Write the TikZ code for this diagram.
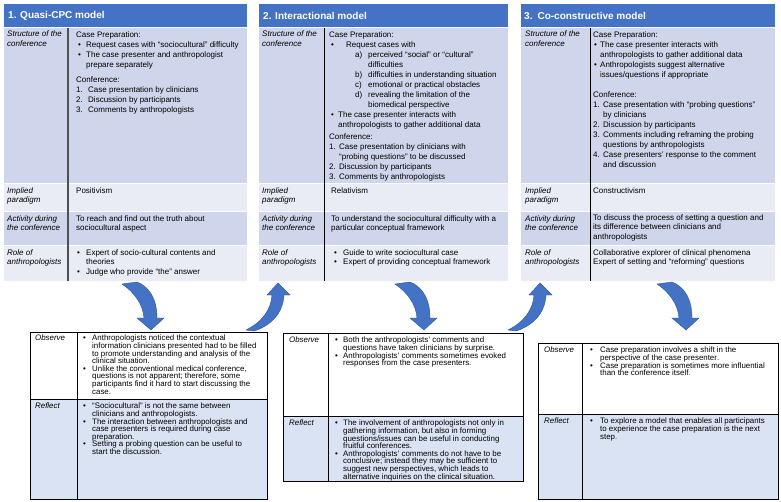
\documentclass[tikz,border=0pt]{standalone}
\usepackage{fontspec}
\setmainfont{Liberation Sans}
\definecolor{hdr}{RGB}{68,114,196}
\definecolor{rowA}{RGB}{207,213,234}
\definecolor{rowB}{RGB}{233,235,245}
\definecolor{refl}{RGB}{218,227,243}
\definecolor{arr}{RGB}{68,114,196}
\definecolor{arrd}{RGB}{47,85,151}
\definecolor{divg}{RGB}{80,80,80}
\newcommand\BU[3]{\makebox[#2][l]{\hspace*{#1}•}#3}
\newcommand\IN[2]{\hspace*{#1}#2}
\newcommand\NU[3]{\makebox[#1][l]{#2}#3}
\newcommand\RD{{\color{red}.}}
\begin{document}
\begin{tikzpicture}[x=1pt,y=-1pt,
  stxt/.style={anchor=north west, inner sep=0pt, align=left, font=\fontsize{8}{10}\selectfont},
  txt/.style={anchor=north west, inner sep=0pt, align=left, font=\fontsize{8}{9.5}\selectfont},
  lbl/.style={anchor=north west, inner sep=0pt, align=left, font=\fontsize{8}{9.5}\selectfont\itshape},
  btxt/.style={anchor=north west, inner sep=0pt, align=left, font=\fontsize{7.9}{7.6}\selectfont},
  blbl/.style={anchor=north west, inner sep=0pt, align=left, font=\fontsize{7.9}{7.6}\selectfont\itshape},
  hdrtxt/.style={anchor=west, inner sep=0pt, font=\fontsize{10}{12}\selectfont\bfseries, text=white},
  arrowshape/.style={fill=arr, draw=arrd, line width=0.4pt},
  boxline/.style={draw=black, line width=0.8pt},
  divline/.style={draw=black, line width=0.8pt},
]
\useasboundingbox (0,0) rectangle (781,501);
\fill[white] (0,0) rectangle (781,501);

% ================= Table 1 =================
\fill[hdr] (4,4) rectangle (247,27);
\fill[rowA] (4,28) rectangle (247,183);
\fill[rowB] (4,184) rectangle (247,211);
\fill[rowA] (4,212) rectangle (247,245);
\fill[rowB] (4,246) rectangle (247,281);
\draw[draw=divg, line width=1.1pt] (68,28) -- (68,281);
\node[hdrtxt] (h1) at (8,16) {1. Quasi-CPC model};
\node[lbl] (l1a) at (7,31) {Structure of the\\conference};
\node[lbl] (l1b) at (7,187) {Implied\\paradigm};
\node[lbl] (l1c) at (7,215) {Activity during\\the conference};
\node[lbl] (l1d) at (7,249) {Role of\\anthropologists};
\node[stxt] (t1a) at (76,31) {Case Preparation:\\
\BU{2pt}{10pt}{Request cases with “sociocultural” difficulty}\\
\BU{2pt}{10pt}{The case presenter and anthropologist}\\
\IN{10pt}{prepare separately}\\[5pt]
Conference:\\
\NU{12pt}{1.}{Case presentation by clinicians}\\
\NU{12pt}{2.}{Discussion by participants}\\
\NU{12pt}{3.}{Comments by anthropologists}};
\node[txt] (t1b) at (76,187) {Positivism};
\node[txt] (t1c) at (76,215) {To reach and find out the truth about\\sociocultural aspect};
\node[txt] (t1d) at (76,249) {\BU{1pt}{10pt}{Expert of socio-cultural contents and}\\
\IN{10pt}{theories}\\
\BU{1pt}{10pt}{Judge who provide “the” answer}};

% ================= Table 2 =================
\fill[hdr] (259,4) rectangle (508,27);
\fill[rowA] (259,28) rectangle (508,183);
\fill[rowB] (259,184) rectangle (508,211);
\fill[rowA] (259,212) rectangle (508,245);
\fill[rowB] (259,246) rectangle (508,281);
\draw[divline] (324,28) -- (324,281);
\node[hdrtxt] (h2) at (263,16) {2. Interactional model};
\node[lbl] (l2a) at (262,31) {Structure of the\\conference};
\node[lbl] (l2b) at (262,187) {Implied\\paradigm};
\node[lbl] (l2c) at (262,215) {Activity during\\the conference};
\node[lbl] (l2d) at (262,249) {Role of\\anthropologists};
\node[stxt] (t2a) at (329,31) {Case Preparation:\\
\BU{2pt}{17pt}{Request cases with}\\
\IN{26pt}{\makebox[13pt][l]{a)}perceived “social” or “cultural”}\\
\IN{39pt}{difficulties}\\
\IN{26pt}{\makebox[13pt][l]{b)}difficulties in understanding situation}\\
\IN{26pt}{\makebox[13pt][l]{c)}emotional or practical obstacles}\\
\IN{26pt}{\makebox[13pt][l]{d)}revealing the limitation of the}\\
\IN{39pt}{biomedical perspective}\\
\BU{2pt}{9pt}{The case presenter interacts with}\\
\IN{9pt}{anthropologists to gather additional data}\\[2pt]
Conference:\\
\NU{10pt}{1.}{Case presentation by clinicians with}\\
\IN{10pt}{“probing questions” to be discussed}\\
\NU{10pt}{2.}{Discussion by participants}\\
\NU{10pt}{3.}{Comments by anthropologists}};
\node[txt] (t2b) at (331,187) {Relativism};
\node[txt] (t2c) at (331,215) {To understand the sociocultural difficulty with a\\particular conceptual framework};
\node[txt] (t2d) at (331,249) {\BU{3pt}{12pt}{Guide to write sociocultural case}\\
\BU{3pt}{12pt}{Expert of providing conceptual framework}};

% ================= Table 3 =================
\fill[hdr] (521,4) rectangle (775,27);
\fill[rowA] (521,28) rectangle (775,183);
\fill[rowB] (521,184) rectangle (775,211);
\fill[rowA] (521,212) rectangle (775,245);
\fill[rowB] (521,246) rectangle (775,281);
\draw[divline] (590,28) -- (590,281);
\node[hdrtxt] (h3) at (524,16) {3.\hspace{5pt}Co-constructive model};
\node[lbl] (l3a) at (525,31) {Structure of the\\conference};
\node[lbl] (l3b) at (525,187) {Implied\\paradigm};
\node[lbl] (l3c) at (525,215) {Activity during\\the conference};
\node[lbl] (l3d) at (525,249) {Role of\\anthropologists};
\node[stxt] (t3a) at (593,31) {Case Preparation:\\
\BU{1pt}{7pt}{The case presenter interacts with}\\
\IN{7pt}{anthropologists to gather additional data}\\
\BU{1pt}{7pt}{Anthropologists suggest alternative}\\
\IN{7pt}{issues/questions if appropriate}\\[10pt]
Conference:\\
\NU{10pt}{1.}{Case presentation with “probing questions”}\\
\IN{10pt}{by clinicians}\\
\NU{10pt}{2.}{Discussion by participants}\\
\NU{10pt}{3.}{Comments including reframing the probing}\\
\IN{10pt}{questions by anthropologists}\\
\NU{10pt}{4.}{Case presenters’ response to the comment}\\
\IN{10pt}{and discussion}};
\node[txt] (t3b) at (593,187) {Constructivism};
\node[txt] (t3c) at (593,214) {To discuss the process of setting a question and\\its difference between clinicians and\\anthropologists};
\node[txt] (t3d) at (593,249) {Collaborative explorer of clinical phenomena\\Expert of setting and “reforming” questions};

% ================= Curved arrows =================
\path[arrowshape] (137,282) .. controls (150,287) and (157,300) .. (157,318)
  -- (164,318) -- (151,330) -- (137,318) -- (144,318)
  .. controls (143,304) and (134,292) .. (122,284) -- cycle;
\begin{scope}[shift={(273,0)}]
\path[arrowshape] (137,282) .. controls (150,287) and (157,300) .. (157,318)
  -- (164,318) -- (151,330) -- (137,318) -- (144,318)
  .. controls (143,304) and (134,292) .. (122,284) -- cycle;
\end{scope}
\begin{scope}[shift={(535,0)}]
\path[arrowshape] (137,282) .. controls (150,287) and (157,300) .. (157,318)
  -- (164,318) -- (151,330) -- (137,318) -- (144,318)
  .. controls (143,304) and (134,292) .. (122,284) -- cycle;
\end{scope}
\path[arrowshape] (246,330) .. controls (262,322) and (271,310) .. (272,295)
  -- (267,295) -- (278,283) -- (290,295) -- (284,295)
  .. controls (283,314) and (270,326) .. (254,331) -- cycle;
\begin{scope}[shift={(262,0)}]
\path[arrowshape] (246,330) .. controls (262,322) and (271,310) .. (272,295)
  -- (267,295) -- (278,283) -- (290,295) -- (284,295)
  .. controls (283,314) and (270,326) .. (254,331) -- cycle;
\end{scope}

% ================= Bottom box 1 =================
\fill[white] (30,332) rectangle (267,399);
\fill[refl] (30,399) rectangle (267,499);
\draw[boxline] (30,332) rectangle (267,499);
\draw[boxline] (30,399) -- (267,399);
\draw[boxline] (77,332) -- (77,499);
\node[blbl] (o1) at (35,335) {Observe};
\node[blbl] (r1) at (35,403) {Reflect};
\node[btxt] (ot1) at (83,335) {\BU{0pt}{9pt}{Anthropologists noticed the contextual}\\
\IN{9pt}{information clinicians presented had to be filled}\\
\IN{9pt}{to promote understanding and analysis of the}\\
\IN{9pt}{clinical situation.}\\
\BU{0pt}{9pt}{Unlike the conventional medical conference,}\\
\IN{9pt}{questions is not apparent; therefore, some}\\
\IN{9pt}{participants find it hard to start discussing the}\\
\IN{9pt}{case.}};
\node[btxt] (rt1) at (83,403) {\BU{0pt}{9pt}{“Sociocultural” is not the same between}\\
\IN{9pt}{clinicians and anthropologists.}\\
\BU{0pt}{9pt}{The interaction between anthropologists and}\\
\IN{9pt}{case presenters is required during case}\\
\IN{9pt}{preparation.}\\
\BU{0pt}{9pt}{Setting a probing question can be useful to}\\
\IN{9pt}{start the discussion.}};

% ================= Bottom box 2 =================
\fill[white] (283,333) rectangle (523,416);
\fill[refl] (283,416) rectangle (523,481);
\draw[boxline] (283,333) rectangle (523,481);
\draw[boxline] (283,416) -- (523,416);
\draw[boxline] (328,333) -- (328,481);
\node[blbl] (o2) at (289,337) {Observe};
\node[blbl] (r2) at (289,420) {Reflect};
\node[btxt] (ot2) at (335,337) {\BU{0pt}{8pt}{Both the anthropologists’ comments and}\\
\IN{8pt}{questions have taken clinicians by surprise.}\\
\BU{0pt}{8pt}{Anthropologists’ comments sometimes evoked}\\
\IN{8pt}{responses from the case presenters.}};
\node[btxt] (rt2) at (335,420) {\BU{0pt}{8pt}{The involvement of anthropologists not only in}\\
\IN{8pt}{gathering information, but also in forming}\\
\IN{8pt}{questions/issues can be useful in conducting}\\
\IN{8pt}{fruitful conferences.}\\
\BU{0pt}{8pt}{Anthropologists’ comments do not have to be}\\
\IN{8pt}{conclusive; instead they may be sufficient to}\\
\IN{8pt}{suggest new perspectives, which leads to}\\
\IN{8pt}{alternative inquiries on the clinical situation.}};

% ================= Bottom box 3 =================
\fill[white] (538,343) rectangle (778,414);
\fill[refl] (538,414) rectangle (778,499);
\draw[boxline] (538,343) rectangle (778,499);
\draw[boxline] (538,414) -- (778,414);
\draw[boxline] (582,343) -- (582,499);
\node[blbl] (o3) at (544,347) {Observe};
\node[blbl] (r3) at (544,418) {Reflect};
\node[btxt] (ot3) at (590,347) {\BU{0pt}{10pt}{Case preparation involves a shift in the}\\
\IN{10pt}{perspective of the case presenter\RD}\\
\BU{0pt}{10pt}{Case preparation is sometimes more influential}\\
\IN{10pt}{than the conference itself\RD}};
\node[btxt] (rt3) at (590,418) {\BU{0pt}{10pt}{To explore a model that enables all participants}\\
\IN{10pt}{to experience the case preparation is the next}\\
\IN{10pt}{step\RD}};
\end{tikzpicture}
\end{document}
